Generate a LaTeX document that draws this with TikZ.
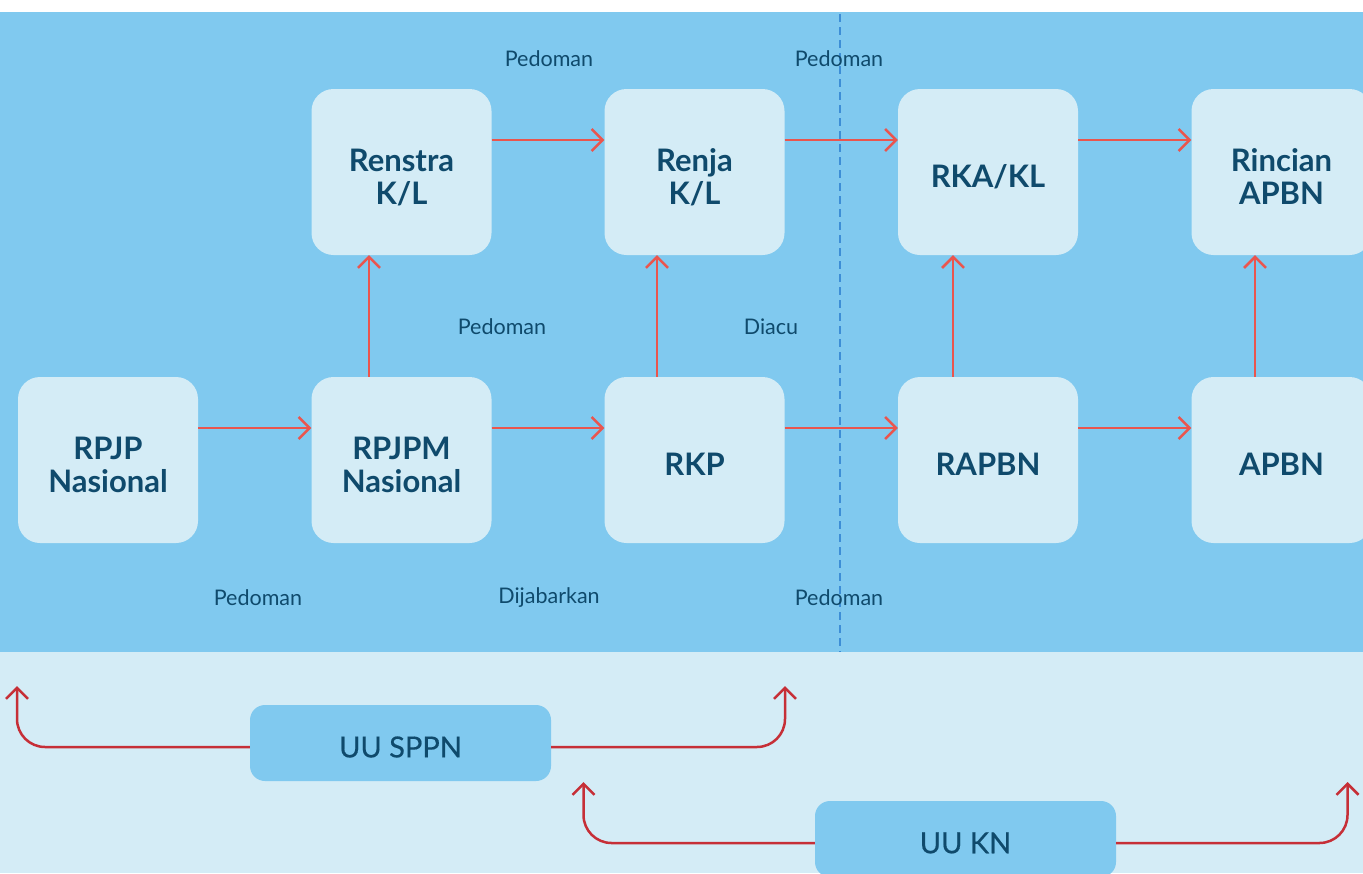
\documentclass[tikz,border=0pt]{standalone}
\usepackage{fontspec}
\setmainfont{Lato}
\newfontfamily\medfont[FakeBold=0.5]{Lato}
\usetikzlibrary{arrows.meta}
\definecolor{bgblue}{HTML}{80C9EF}
\definecolor{lightbg}{HTML}{D4ECF6}
\definecolor{textc}{HTML}{0F4A6C}
\definecolor{coral}{HTML}{EA554E}
\definecolor{darkred}{HTML}{C62F37}
\definecolor{dashc}{HTML}{3D8ED6}
\newcommand\lowtxt[1]{\raisebox{-9pt}[\height][\depth]{\begin{tabular}{@{}c@{}}#1\end{tabular}}}
\begin{document}
\begin{tikzpicture}[x=1pt,y=-1pt,
  box/.style={rounded corners=22pt, fill=lightbg, minimum width=180pt, minimum height=166pt,
    font=\bfseries\fontsize{31}{33}\selectfont, text=textc, align=center, inner sep=0pt},
  uubox/.style={rounded corners=15pt, fill=bgblue, minimum width=301pt, minimum height=76pt,
    font=\medfont\fontsize{29}{33}\selectfont, text=textc, inner sep=0pt},
  lbl/.style={font=\fontsize{21.5}{24}\selectfont, text=textc, inner sep=0pt},
  flow/.style={draw=coral, line width=2.5pt, -{Straight Barb[length=11pt,width=22pt]}},
  basis/.style={draw=darkred, line width=2.5pt, rounded corners=28pt, -{Straight Barb[length=11pt,width=22pt]}}
]
\useasboundingbox (0,0) rectangle (1363,873);
\fill[white] (0,0) rectangle (1363,12);
\fill[bgblue] (0,12) rectangle (1363,652);
\fill[lightbg] (0,652) rectangle (1363,873);
\draw[dashc, line width=2.5pt, dash pattern=on 8pt off 5pt] (840,14) -- (840,652);

% boxes
\node[box] (renstra) at (401.5,172) {\lowtxt{Renstra\\K/L}};
\node[box] (renja) at (694.5,172) {\lowtxt{Renja\\K/L}};
\node[box] (rka) at (988,172) {\lowtxt{RKA/KL}};
\node[box] (rincian) at (1281.5,172) {\lowtxt{Rincian\\APBN}};
\node[box] (rpjp) at (108,460) {\lowtxt{RPJP\\Nasional}};
\node[box] (rpjpm) at (401.5,460) {\lowtxt{RPJPM\\Nasional}};
\node[box] (rkp) at (694.5,460) {\lowtxt{RKP}};
\node[box] (rapbn) at (988,460) {\lowtxt{RAPBN}};
\node[box] (apbn) at (1281.5,460) {\lowtxt{APBN}};

% labels
\node[lbl] (l1) at (549,59) {Pedoman};
\node[lbl] (l2) at (839,59) {Pedoman};
\node[lbl] (l3) at (502,327) {Pedoman};
\node[lbl] (l4) at (771,327) {Diacu};
\node[lbl] (l5) at (258,598) {Pedoman};
\node[lbl] (l6) at (549,598) {Dijabarkan};
\node[lbl] (l7) at (839,598) {Pedoman};

% horizontal arrows
\draw[flow] ([yshift=32pt]renstra.east) -- ([yshift=32pt]renja.west);
\draw[flow] ([yshift=32pt]renja.east) -- ([yshift=32pt]rka.west);
\draw[flow] ([yshift=32pt]rka.east) -- ([yshift=32pt]rincian.west);
\draw[flow] ([yshift=32pt]rpjp.east) -- ([yshift=32pt]rpjpm.west);
\draw[flow] ([yshift=32pt]rpjpm.east) -- ([yshift=32pt]rkp.west);
\draw[flow] ([yshift=32pt]rkp.east) -- ([yshift=32pt]rapbn.west);
\draw[flow] ([yshift=32pt]rapbn.east) -- ([yshift=32pt]apbn.west);

% vertical arrows
\draw[flow] ([xshift=-32.5pt]rpjpm.north) -- ([xshift=-32.5pt]renstra.south);
\draw[flow] ([xshift=-37.5pt]rkp.north) -- ([xshift=-37.5pt]renja.south);
\draw[flow] ([xshift=-35pt]rapbn.north) -- ([xshift=-35pt]rka.south);
\draw[flow] ([xshift=-26.5pt]apbn.north) -- ([xshift=-26.5pt]rincian.south);

% bottom
\node[uubox] (sppn) at (400.5,743) {\raisebox{-4pt}[\height][\depth]{UU SPPN}};
\node[uubox] (kn) at (965.5,839) {\raisebox{-4pt}[\height][\depth]{UU KN}};
\coordinate (s1) at (17,686);
\coordinate (s2) at (785,686);
\coordinate (k1) at (583.5,782);
\coordinate (k2) at (1347.5,782);
\draw[basis] ([yshift=-4pt]sppn.west) -| (s1);
\draw[basis] ([yshift=-4pt]sppn.east) -| (s2);
\draw[basis] ([yshift=-4pt]kn.west) -| (k1);
\draw[basis] ([yshift=-4pt]kn.east) -| (k2);
\end{tikzpicture}
\end{document}
